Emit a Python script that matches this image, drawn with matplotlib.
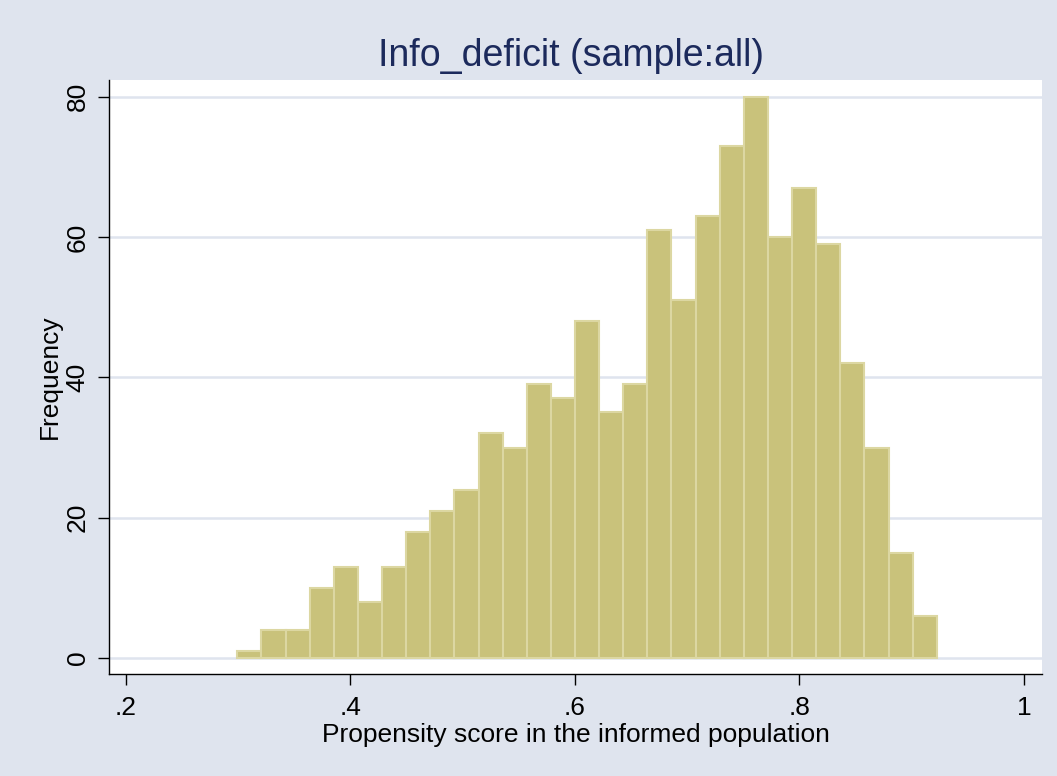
import matplotlib
matplotlib.use("Agg")
import matplotlib.pyplot as plt
import numpy as np

plt.rcParams['font.family'] = ['Liberation Sans', 'DejaVu Sans']

# Data
counts = [1, 4, 4, 10, 13, 8, 13, 18, 21, 24, 32, 30, 39, 37, 48, 35, 39,
          61, 51, 63, 73, 80, 60, 67, 59, 42, 30, 15, 6]
bin_start = 0.2994
bin_width = 0.02148
x_ticks = [0.2, 0.4, 0.6, 0.8, 1.0]
x_tick_labels = ['.2', '.4', '.6', '.8', '1']
y_ticks = [0, 20, 40, 60, 80]
title = 'Info_deficit (sample:all)'
xlabel = 'Propensity score in the informed population'
ylabel = 'Frequency'

bg = '#DFE4EE'
bar_fill = '#C9C27B'
bar_edge = '#DCD7A2'
grid_col = '#DFE4EE'

fig = plt.figure(figsize=(10.57, 7.76), dpi=100, facecolor=bg)
ax = fig.add_axes([109/1057, 1-674/776, (1042-109)/1057, (674-80)/776])
ax.set_facecolor('white')

edges = bin_start + bin_width * np.arange(len(counts))
ax.bar(edges, counts, width=bin_width, align='edge', color=bar_fill,
       edgecolor=bar_edge, linewidth=1.5, zorder=2)

ax.set_xlim(0.1851, 1.016)
ax.set_ylim(-2.28, 82.38)
ax.set_yticks(y_ticks)
ax.set_yticklabels([str(v) for v in y_ticks], rotation=90, va='center', fontsize=19)
ax.set_xticks(x_ticks)
ax.set_xticklabels(x_tick_labels, fontsize=19)
ax.tick_params(axis='both', length=8, width=1.0, color='black', direction='out', pad=6)
ax.tick_params(axis='x', pad=8)
ax.yaxis.grid(True, color=grid_col, linewidth=1.8, zorder=0)
ax.set_axisbelow(True)

for s in ['top', 'right']:
    ax.spines[s].set_visible(False)
for s in ['left', 'bottom']:
    ax.spines[s].set_color('black')
    ax.spines[s].set_linewidth(1.0)

ax.set_title(title, fontsize=27, color='#1C2A5C', pad=10, x=0.495)
ax.set_xlabel(xlabel, fontsize=19, labelpad=2)
ax.set_ylabel(ylabel, fontsize=19, labelpad=3)

fig.savefig('out.png', dpi=100, facecolor=bg)
